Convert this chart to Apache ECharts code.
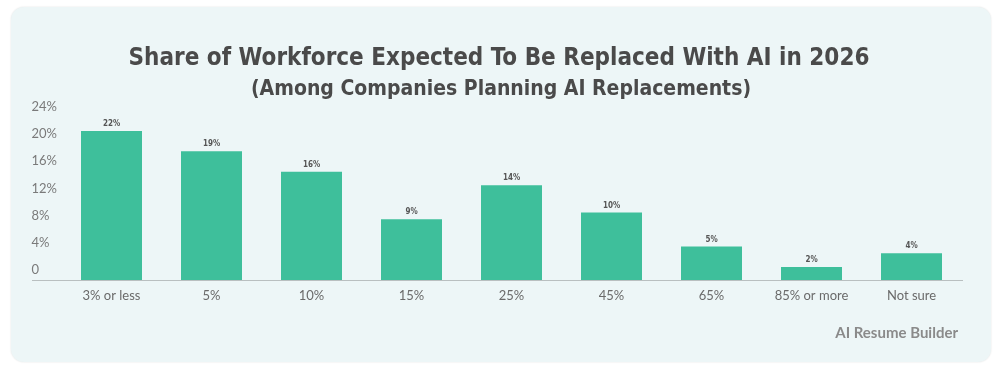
<!DOCTYPE html>
<html>
<head>
<meta charset="utf-8">
<script src="https://cdn.jsdelivr.net/npm/echarts@6/dist/echarts.min.js"></script>
<style>
  html, body { margin: 0; padding: 0; background: #ffffff; }
  #card { position: absolute; left: 11px; top: 7px; width: 980px; height: 355px;
          border-radius: 13px; background: #edf6f7; box-shadow: 0 0 2px rgba(0,0,0,0.12); }
  #chart { position: absolute; left: 0; top: 0; width: 1001px; height: 372px; }
</style>
</head>
<body>
<div id="card"></div>
<div id="chart"></div>
<script>
const categories = ['3% or less', '5%', '10%', '15%', '25%', '45%', '65%', '85% or more', 'Not sure'];
const shares = [22, 19, 16, 9, 14, 10, 5, 2, 4];
const yTicks = { min: 0, max: 24, interval: 4 };
const titleText = 'Share of Workforce Expected To Be Replaced With AI in 2026';
const subtitleText = '(Among Companies Planning AI Replacements)';
const sourceText = 'AI Resume Builder';

const narrow = '"DejaVu Sans Condensed", "Roboto", sans-serif';
const chart = echarts.init(document.getElementById('chart'), null, { renderer: 'canvas' });
chart.setOption({
  backgroundColor: 'transparent',
  animation: false,
  title: [
    { text: titleText, left: 494, textAlign: 'center', top: 42,
      textStyle: { fontFamily: narrow, fontWeight: 'bold', fontSize: 24, color: '#4a4a4a' } },
    { text: subtitleText, left: 496, textAlign: 'center', top: 74,
      textStyle: { fontFamily: narrow, fontWeight: 'bold', fontSize: 21, color: '#4a4a4a' } },
    { text: sourceText, right: 38, top: 321,
      textStyle: { fontFamily: 'Lato, "Open Sans", sans-serif', fontWeight: 'bold', fontSize: 15, color: '#8a8a8a' } }
  ],
  grid: { left: 61.5, right: 39.5, top: 117.3, bottom: 91.5, containLabel: false },
  xAxis: {
    type: 'category', data: categories,
    axisLine: { show: false }, axisTick: { show: false },
    axisLabel: { color: '#6a6a6a', fontSize: 13, fontFamily: 'Lato, sans-serif', margin: 9 }
  },
  yAxis: {
    type: 'value', min: yTicks.min, max: yTicks.max, interval: yTicks.interval,
    splitLine: { show: false }, axisLine: { show: false }, axisTick: { show: false },
    axisLabel: {
      align: 'left', margin: 30, verticalAlign: 'bottom', padding: [0, 0, 4, 0],
      color: '#7a7a7a', fontSize: 13, fontFamily: 'Lato, sans-serif',
      formatter: v => v === 0 ? '0' : v + '%'
    }
  },
  series: [{
    type: 'bar', data: shares, barWidth: 61,
    itemStyle: { color: '#3ebf9b' },
    label: { show: true, position: 'top', distance: 3, formatter: '{c}%',
      fontSize: 8, fontWeight: 'bold', color: '#555', fontFamily: narrow }
  }]
});
const y0 = chart.convertToPixel({ yAxisIndex: 0 }, 0);
chart.setOption({
  graphic: [{ type: 'line', shape: { x1: 32, y1: y0, x2: 963, y2: y0 },
    style: { stroke: '#b9bfc0', lineWidth: 1.2 }, z: 10 }]
});
</script>
</body>
</html>
